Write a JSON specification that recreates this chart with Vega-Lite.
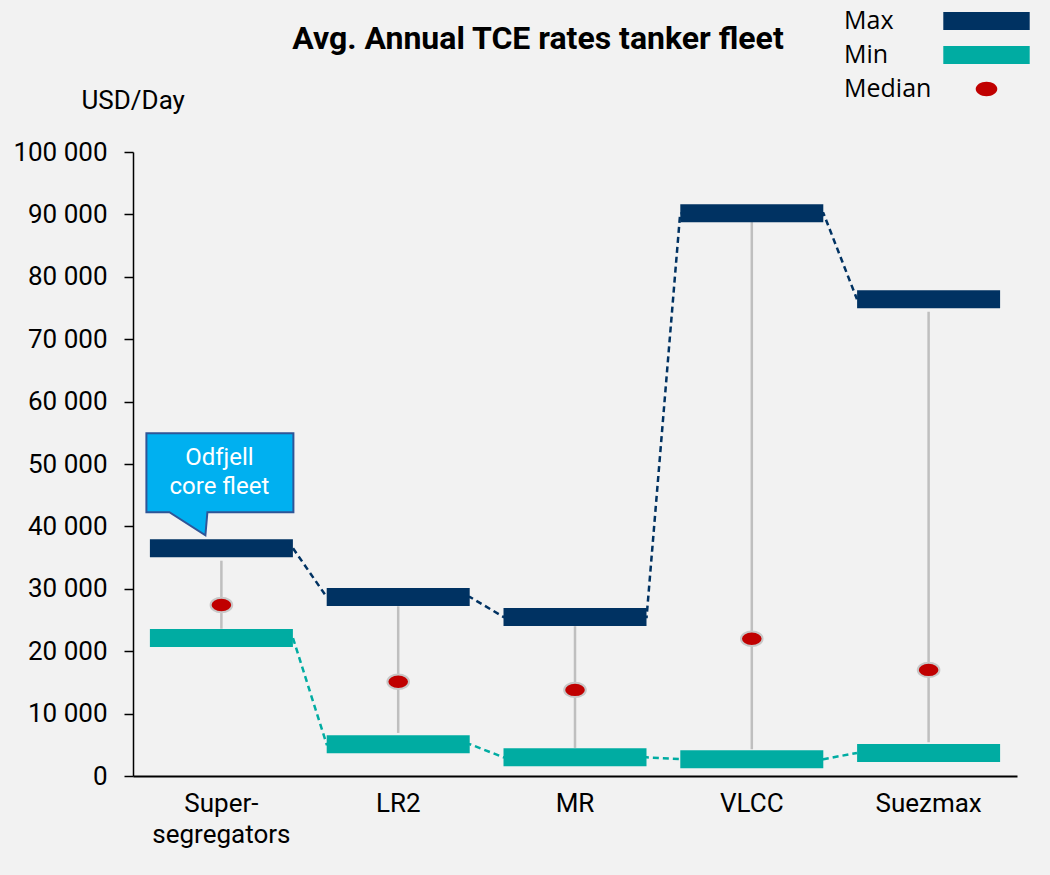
{
  "$schema": "https://vega.github.io/schema/vega-lite/v6.json",
  "width": 884,
  "height": 624,
  "autosize": {"type": "none"},
  "padding": {"left": 133, "top": 152, "right": 33, "bottom": 99},
  "background": "#f2f2f2",
  "config": {
    "view": {"stroke": null},
    "font": "Roboto",
    "locale": {"number": {"decimal": ",", "thousands": " ", "grouping": [3], "currency": ["", ""]}}
  },
  "title": {"text": "Avg. Annual TCE rates tanker fleet", "font": "Roboto", "fontSize": 32, "fontWeight": "bold", "color": "#000000", "anchor": "middle", "dx": -37, "dy": 47, "offset": 0},
  "datasets": {
    "fleet": [
      {"cat": "Super-segregators", "Max": 36500, "Min": 22100, "Median": 27400, "hi": 34500, "lo": 23600},
      {"cat": "LR2", "Max": 28700, "Min": 5100, "Median": 15100, "hi": 27200, "lo": 6900},
      {"cat": "MR", "Max": 25500, "Min": 3000, "Median": 13800, "hi": 24000, "lo": 4500},
      {"cat": "VLCC", "Max": 90200, "Min": 2700, "Median": 22000, "hi": 88800, "lo": 4300},
      {"cat": "Suezmax", "Max": 76400, "Min": 3700, "Median": 17000, "hi": 74400, "lo": 5400}
    ],
    "edges": [
      {"series": "Max", "cat": "Super-segregators", "edge": "end", "value": 36500},
      {"series": "Max", "cat": "LR2", "edge": "start", "value": 28700},
      {"series": "Max", "cat": "LR2", "edge": "end", "value": 28700},
      {"series": "Max", "cat": "MR", "edge": "start", "value": 25500},
      {"series": "Max", "cat": "MR", "edge": "end", "value": 25500},
      {"series": "Max", "cat": "VLCC", "edge": "start", "value": 90200},
      {"series": "Max", "cat": "VLCC", "edge": "end", "value": 90200},
      {"series": "Max", "cat": "Suezmax", "edge": "start", "value": 76400},
      {"series": "Min", "cat": "Super-segregators", "edge": "end", "value": 22100},
      {"series": "Min", "cat": "LR2", "edge": "start", "value": 5100},
      {"series": "Min", "cat": "LR2", "edge": "end", "value": 5100},
      {"series": "Min", "cat": "MR", "edge": "start", "value": 3000},
      {"series": "Min", "cat": "MR", "edge": "end", "value": 3000},
      {"series": "Min", "cat": "VLCC", "edge": "start", "value": 2700},
      {"series": "Min", "cat": "VLCC", "edge": "end", "value": 2700},
      {"series": "Min", "cat": "Suezmax", "edge": "start", "value": 3700}
    ]
  },
  "data": {"name": "fleet"},
  "encoding": {
    "x": {
      "field": "cat", "type": "nominal", "title": null,
      "scale": {"domain": ["Super-segregators", "LR2", "MR", "VLCC", "Suezmax"], "paddingInner": 0.19, "paddingOuter": 0.095},
      "axis": {"labelFont": "Roboto", "labelFontSize": 26, "labelColor": "#000000", "labelAngle": 0, "ticks": false, "tickSize": 0, "labelPadding": 14, "domainColor": "#000000", "domainWidth": 2, "labelLineHeight": 31, "labelLimit": 400, "labelExpr": "datum.value === 'Super-segregators' ? ['Super-', 'segregators'] : datum.value"}
    }
  },
  "layer": [
    {
      "mark": {"type": "rule", "color": "#bfbfbf", "strokeWidth": 2.5},
      "encoding": {
        "y": {
          "field": "hi", "type": "quantitative", "title": "USD/Day",
          "scale": {"domain": [0, 100000], "nice": false, "zero": true},
          "axis": {"titleAngle": 0, "titleX": -52, "titleY": -44, "titleAlign": "left", "titleBaseline": "alphabetic", "titleFont": "Roboto", "titleFontSize": 26, "titleFontWeight": "normal", "titleColor": "#000000", "values": [0, 10000, 20000, 30000, 40000, 50000, 60000, 70000, 80000, 90000, 100000], "format": ",.0f", "labelFont": "Roboto", "labelFontSize": 26, "labelColor": "#000000", "labelPadding": 17, "tickSize": 9, "tickColor": "#000000", "tickWidth": 1.5, "domainColor": "#000000", "domainWidth": 1.5, "grid": false}
        },
        "y2": {"field": "lo"}
      }
    },
    {
      "data": {"name": "edges"},
      "transform": [{"filter": "datum.series === 'Max'"}],
      "mark": {"type": "line", "color": "#003262", "strokeWidth": 2.5, "strokeDash": [6, 4]},
      "encoding": {
        "x": {"field": "cat", "type": "nominal", "bandPosition": 0, "scale": {"domain": ["Super-segregators", "LR2", "MR", "VLCC", "Suezmax"], "paddingInner": 0.19, "paddingOuter": 0.095}},
        "xOffset": {"field": "edge", "type": "nominal", "scale": {"type": "point", "padding": 0, "domain": ["start", "end"]}},
        "y": {"field": "value", "type": "quantitative", "title": "USD/Day"},
        "order": {"value": null}
      }
    },
    {
      "data": {"name": "edges"},
      "transform": [{"filter": "datum.series === 'Min'"}],
      "mark": {"type": "line", "color": "#00aca2", "strokeWidth": 2.5, "strokeDash": [6, 4]},
      "encoding": {
        "x": {"field": "cat", "type": "nominal", "bandPosition": 0, "scale": {"domain": ["Super-segregators", "LR2", "MR", "VLCC", "Suezmax"], "paddingInner": 0.19, "paddingOuter": 0.095}},
        "xOffset": {"field": "edge", "type": "nominal", "scale": {"type": "point", "padding": 0, "domain": ["start", "end"]}},
        "y": {"field": "value", "type": "quantitative", "title": "USD/Day"},
        "order": {"value": null}
      }
    },
    {
      "transform": [{"fold": ["Max", "Min"], "as": ["series", "value"]}],
      "mark": {"type": "tick", "size": 143, "thickness": 18, "opacity": 1},
      "encoding": {
        "y": {"field": "value", "type": "quantitative", "title": "USD/Day"},
        "color": {
          "field": "series", "type": "nominal",
          "scale": {"domain": ["Max", "Min", "Median"], "range": ["#003262", "#00aca2", "#c00000"]},
          "legend": {"title": null, "orient": "none", "legendX": 709, "legendY": -143.5, "direction": "vertical", "labelFont": "Open Sans", "labelFontSize": 25, "labelColor": "#000000", "labelOffset": -155, "symbolOffset": 132, "symbolSize": 324, "rowPadding": 8, "padding": 0,
            "encode": {"symbols": {"update": {"fill": {"signal": "datum.value === 'Max' ? '#364b6c' : scale('color', datum.value)"}, "stroke": {"signal": "datum.value === 'Median' ? '#c8c8c8' : 'transparent'"}, "strokeWidth": {"signal": "datum.value === 'Median' ? 2 : 0"}}}}}
        }
      }
    },
    {
      "transform": [{"fold": ["Median"], "as": ["series", "value"]}],
      "mark": {"type": "point", "filled": true, "size": 324, "stroke": "#c8c8c8", "strokeWidth": 2, "opacity": 1},
      "encoding": {
        "y": {"field": "value", "type": "quantitative", "title": "USD/Day"},
        "color": {
          "field": "series", "type": "nominal",
          "scale": {"domain": ["Max", "Min", "Median"], "range": ["#003262", "#00aca2", "#c00000"]},
          "legend": {"title": null, "orient": "none", "legendX": 709, "legendY": -143.5, "direction": "vertical", "labelFont": "Open Sans", "labelFontSize": 25, "labelColor": "#000000", "labelOffset": -155, "symbolOffset": 132, "symbolSize": 324, "rowPadding": 8, "padding": 0,
            "encode": {"symbols": {"update": {"fill": {"signal": "datum.value === 'Max' ? '#364b6c' : scale('color', datum.value)"}, "stroke": {"signal": "datum.value === 'Median' ? '#c8c8c8' : 'transparent'"}, "strokeWidth": {"signal": "datum.value === 'Median' ? 2 : 0"}}}}}
        },
        "shape": {
          "field": "series", "type": "nominal",
          "scale": {"domain": ["Max", "Min", "Median"], "range": ["M-4.8,-1H4.8V1H-4.8Z", "M-4.8,-1H4.8V1H-4.8Z", "M-1.2,0A1.2,0.8 0 1,0 1.2,0A1.2,0.8 0 1,0 -1.2,0Z"]},
          "legend": {"title": null, "orient": "none", "legendX": 709, "legendY": -143.5, "direction": "vertical", "labelFont": "Open Sans", "labelFontSize": 25, "labelColor": "#000000", "labelOffset": -155, "symbolOffset": 132, "symbolSize": 324, "rowPadding": 8, "padding": 0,
            "encode": {"symbols": {"update": {"fill": {"signal": "datum.value === 'Max' ? '#364b6c' : scale('color', datum.value)"}, "stroke": {"signal": "datum.value === 'Median' ? '#c8c8c8' : 'transparent'"}, "strokeWidth": {"signal": "datum.value === 'Median' ? 2 : 0"}}}}}
        }
      }
    },
    {
      "transform": [{"filter": "datum.cat === 'Super-segregators'"}],
      "mark": {"type": "point", "shape": "M-75,-115H72V-36H-14L-16,-13L-52,-36H-75Z", "size": 4, "filled": true, "fill": "#00b0f0", "stroke": "#2f5597", "strokeWidth": 2, "opacity": 1},
      "encoding": {"y": {"field": "Max", "type": "quantitative", "title": "USD/Day"}}
    },
    {
      "transform": [{"filter": "datum.cat === 'Super-segregators'"}],
      "mark": {"type": "text", "text": ["Odfjell", "core fleet"], "align": "center", "baseline": "middle", "dx": -2, "dy": -90, "font": "Roboto", "fontSize": 24, "lineHeight": 29, "fill": "#ffffff"},
      "encoding": {"y": {"field": "Max", "type": "quantitative", "title": "USD/Day"}}
    }
  ]
}
